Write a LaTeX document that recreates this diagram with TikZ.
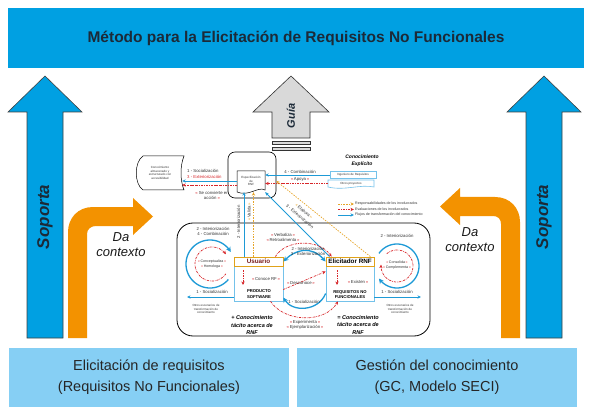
\documentclass[tikz,border=0pt]{standalone}
\usepackage{fontspec}
\setmainfont{Liberation Sans}
\usetikzlibrary{arrows.meta}
\definecolor{sky}{HTML}{00A0E2}
\definecolor{lightsky}{HTML}{86CFF4}
\definecolor{orng}{HTML}{F39200}
\definecolor{navy}{HTML}{1C2A38}
\definecolor{flowblue}{HTML}{1E9AD6}
\definecolor{flowred}{HTML}{D7262A}
\definecolor{resp}{HTML}{E6A52A}
\definecolor{hdrgold}{HTML}{E0A21A}
\definecolor{bodyblue}{HTML}{74C2EA}
\definecolor{txt}{HTML}{333333}
\newcommand{\rgq}[1]{{\color{flowred}«}\,#1\,{\color{flowred}»}}
\newcommand{\ogq}[1]{{\color{resp}«}\,#1\,{\color{resp}»}}
\newcommand{\fs}[2]{\fontsize{#1}{#2}\selectfont}
\begin{document}
\begin{tikzpicture}[x=1pt,y=-1pt,
  supp/.style={fill=sky, draw=black!75, line width=0.6pt, line join=miter},
  guiashape/.style={fill=black!15, draw=black!80, line width=0.6pt},
  ctx/.style={fill=orng},
  basebox/.style={fill=lightsky, minimum width=280pt, minimum height=59pt, inner sep=0pt, align=center, font=\fs{14.5}{21}, text=black!85},
  sop/.style={rotate=90, font=\fs{17}{19}\bfseries\itshape, text=navy},
  dactx/.style={align=center, font=\fs{13}{15}\itshape, text=black!90},
  lbl/.style={font=\fs{4.3}{5}, text=txt, inner sep=0pt, align=center},
  tinyt/.style={font=\fs{3}{3.6}, text=txt, inner sep=0pt, align=center},
  legt/.style={font=\fs{3.6}{4}, text=txt, inner sep=0pt, anchor=west},
  bi/.style={font=\fs{5.5}{7.5}\bfseries\itshape, text=black, inner sep=0pt, align=center},
  bthin/.style={draw=flowblue, line width=0.8pt, -{Stealth[length=3.5pt,width=3.2pt]}},
  bthick/.style={draw=flowblue, line width=1.3pt, -{Stealth[length=5pt,width=5pt]}},
  rflow/.style={draw=flowred, line width=0.7pt, dash pattern=on 2.2pt off 1pt on 0.6pt off 1pt, -{Stealth[length=3.5pt,width=3.2pt]}},
  oflow/.style={draw=resp, line width=0.7pt, dash pattern=on 1.5pt off 1.2pt, -{Stealth[length=3.5pt,width=3.2pt]}},
  hdr/.style={draw=hdrgold, line width=0.8pt, fill=white, minimum height=9pt, inner sep=0pt, font=\fs{6.3}{7}\bfseries},
  bodybox/.style={draw=bodyblue, line width=0.7pt, fill=white, minimum height=35pt, inner sep=0pt},
]
\useasboundingbox (0,0) rectangle (592,417);

% ---------- banner and base boxes ----------
\node[fill=sky, minimum width=576pt, minimum height=60pt, inner sep=0pt,
      font=\fs{15.5}{18}\bfseries, text=navy] (banner) at (296,38)
      {Método para la Elicitación de Requisitos No Funcionales};
\node[basebox] (elic) at (149,377.5) {Elicitación de requisitos\\(Requisitos No Funcionales)};
\node[basebox] (gest) at (437,377.5) {Gestión del conocimiento\\(GC, Modelo SECI)};

% ---------- Soporta arrows ----------
\draw[supp] (45,76) -- (82,112) -- (63,112) -- (63,338) -- (27,338) -- (27,112) -- (8,112) -- cycle;
\node[sop] (sopL) at (45,217) {Soporta};
\draw[supp] (544,76) -- (581,112) -- (562,112) -- (562,338) -- (526,338) -- (526,112) -- (507,112) -- cycle;
\node[sop] (sopR) at (544,217) {Soporta};

% ---------- Guia arrow ----------
\draw[guiashape] (291,76) -- (329,112) -- (310,112) -- (310,138) -- (272,138) -- (272,112) -- (253,112) -- cycle;
\draw[guiashape] (272,141) rectangle (310,144.5);
\draw[guiashape] (272,147) rectangle (310,150);
\node[rotate=90, font=\fs{11}{12}\bfseries\itshape, text=navy] (guia) at (291,116) {Guía};

% ---------- Da contexto arrows ----------
\fill[ctx] (68,338) -- (68,232) .. controls (68,218) and (78,207) .. (93,207) -- (133,207) -- (133,198)
  -- (153,216.5) -- (133,235) -- (133,226) -- (96,226) .. controls (91,226) and (87,229) .. (87,234) -- (87,338) -- cycle;
\node[dactx] (ctxL) at (121,245) {Da\\contexto};
\fill[ctx] (520,338) -- (520,222) .. controls (520,208) and (510,197) .. (495,197) -- (460,197) -- (460,188)
  -- (440,206.5) -- (460,225) -- (460,216) -- (493,216) .. controls (498,216) and (501,219) .. (501,224) -- (501,338) -- cycle;
\node[dactx] (ctxR) at (470,240) {Da\\contexto};

% ---------- stored knowledge ----------
\draw[line width=0.5pt] (143,156) -- (184,156) .. controls (180,166) and (180,180) .. (184,190) -- (143,190)
  .. controls (134,184) and (134,162) .. (143,156) -- cycle;
\node[tinyt, minimum width=44pt, minimum height=34pt] (conoc) at (160,173)
  {Conocimiento\\almacenado y\\estructurado con\\accesibilidad};

% ---------- specification ----------
\node[draw, rounded corners=7pt, line width=0.6pt, minimum width=48pt, minimum height=46pt] (specbox) at (252,175) {};
\draw[line width=0.5pt] (237,171) -- (265,171) -- (265,190) .. controls (258,186) and (249,197) .. (237,192) -- cycle;
\node[tinyt, minimum width=28pt, minimum height=22pt] (spec) at (251,181) {Especificación\\de\\RNF};

\draw[bthin] (spec.west) -- (conoc.east |- spec.west);
\draw[rflow] ([yshift=-4pt]spec.west) -- ([yshift=-4pt]conoc.east |- spec.west);
\node[lbl, anchor=west] (soc1) at (187,171) {1 - Socialización};
\node[lbl, anchor=west, text=flowred] (ext3) at (187,177) {3 - Exteriorización};
\node[lbl] (conv) at (212,195) {{\color{flowred}«} Se convierte en\\acción {\color{flowred}»}};

% ---------- explicit knowledge ----------
\node[bi, font=\fs{5}{7}\bfseries\itshape] (cexp) at (362,161) {Conocimiento\\Explícito};
\node[draw=bodyblue, line width=0.6pt, fill=white, tinyt, minimum width=46pt, minimum height=6.5pt] (ing) at (353,175) {Ingeniero de Requisitos};
\draw[draw=bodyblue, line width=0.6pt] (328,180) -- (374,180) -- (374,187) .. controls (360,184) and (345,191) .. (328,187) -- cycle;
\node[tinyt, minimum width=46pt, minimum height=7pt] (otros) at (351,183.5) {Otros proyectos};
\draw[bthin] (ing.west) -- (spec.east |- ing.west);
\draw[rflow] (otros.west) -- (spec.east |- otros.west);
\node[lbl] (comb4) at (300,171.5) {4 - Combinación};
\node[lbl] (apoya) at (300,179.5) {\rgq{Apoya}};

% ---------- legend ----------
\coordinate (l1a) at (338,204); \coordinate (l1b) at (354,204);
\coordinate (l2a) at (338,209.5); \coordinate (l2b) at (354,209.5);
\coordinate (l3a) at (338,215); \coordinate (l3b) at (354,215);
\draw[oflow] (l1a) -- (l1b);
\draw[rflow] (l2a) -- (l2b);
\draw[bthin] (l3a) -- (l3b);
\node[legt] (lt1) at (355,204) {Responsabilidades de los involucrados};
\node[legt] (lt2) at (355,209.5) {Evaluaciones de los involucrados};
\node[legt] (lt3) at (355,215) {Flujos de transformación del conocimiento};

% ---------- container ----------
\node[draw, rounded corners=16pt, line width=0.8pt, minimum width=253pt, minimum height=113pt] (cont) at (303.5,279.5) {};

% ---------- Usuario / Elicitador ----------
\node[bodybox, minimum width=49pt] (usub) at (258.5,283.5) {};
\node[hdr, minimum width=49pt, text={rgb,255:red,120;green,30;blue,30}] (usu) at (258.5,261.5) {Usuario};
\node[bodybox, minimum width=48pt] (elib) at (350,283.5) {};
\node[hdr, minimum width=48pt] (eli) at (350,261.5) {Elicitador RNF};

\coordinate (ua) at (243,270); \coordinate (ub) at (243,285);
\draw[rflow] (ua) -- (ub);
\node[lbl] (conoce) at (266,279.5) {\rgq{Conoce RF}};
\node[lbl, font=\fs{4.2}{5.5}\bfseries, text=black] (prod) at (259,294) {PRODUCTO\\SOFTWARE};
\coordinate (ea) at (337,270); \coordinate (eb) at (337,285);
\draw[rflow] (ea) -- (eb);
\node[lbl] (existen) at (358,282) {\rgq{Existen}};
\node[lbl, font=\fs{4.2}{5.5}\bfseries, text=black] (reqnf) at (350,294.5) {REQUISITOS NO\\FUNCIONALES};

% ---------- vertical and diagonal links to the specification ----------
\draw[bthin] ([xshift=-14.5pt]usu.north) -- ([xshift=-14.5pt]usu.north |- spec.south);
\draw[oflow] ([xshift=-5pt]usu.north) -- ([xshift=-5pt]usu.north |- spec.south);
\node[lbl, rotate=90] (int2v) at (238.5,222) {2 - Interiorización};
\node[lbl, rotate=90] (valida) at (249,212) {\ogq{Valida}};

\draw[bthin] ([xshift=4pt]eli.north west) -- (spec.south east);
\draw[oflow] ([xshift=-4pt]eli.north east) -- ([yshift=-6pt]specbox.east);
\node[lbl, rotate=-40, font=\fs{4.3}{6.5}] (elabext) at (302,214) {\ogq{Elabora}\\3 - Exteriorización};

% ---------- left loop ----------
\draw[bthick] plot[domain=40:330, samples=60] ({210+24*cos(\x)}, {264+24*sin(\x)});
\draw[rflow] plot[domain=35:325, samples=60] ({212+17*cos(\x)}, {264+17*sin(\x)});
\node[lbl] (int2L) at (213,231) {2 - Interiorización\\4 - Combinación};
\node[lbl, font=\fs{3.6}{5.6}] (concep) at (212,264) {\rgq{Conceptualiza}\\\rgq{Homologa}};

% ---------- right loop ----------
\draw[bthick] plot[domain=215:505, samples=60] ({397+22*cos(\x)}, {266+22*sin(\x)});
\draw[rflow] plot[domain=230:545, samples=60] ({397+16*cos(\x)}, {266+16*sin(\x)});
\node[lbl] (int2R) at (397,236) {2 - Interiorización};
\node[lbl, font=\fs{3.6}{5.6}] (consol) at (397,265) {\rgq{Consolida}\\\rgq{Complementa}};

% ---------- socialization to other scenarios ----------
\coordinate (osL) at (187,297);
\coordinate (osR) at (421,297);
\draw[bthin] (usub.west |- osL) -- (osL);
\draw[bthin] (elib.east |- osR) -- (osR);
\node[lbl] (soc1L) at (212,292) {1 - Socialización};
\node[lbl] (soc1R) at (397,292) {1 - Socialización};
\node[tinyt] (otrosL) at (206,309) {Otros escenarios de\\transformación de\\conocimiento};
\node[tinyt] (otrosR) at (400,309) {Otros escenarios de\\transformación de\\conocimiento};

% ---------- flows between Usuario and Elicitador ----------
\draw[rflow] ([xshift=-8pt]usu.north east) .. controls (285,240) and (318,238) .. ([xshift=6pt]eli.north west);
\draw[bthick, {Stealth[length=5pt,width=5pt]}-{Stealth[length=5pt,width=5pt]}] (usu.east) .. controls (295,250) and (311,245) .. (eli.west);
\node[lbl] (verb) at (283,237.5) {\rgq{Verbaliza}\\\rgq{Retroalimenta}};
\node[lbl] (intext) at (308,251) {2 - Interiorización\\3 - Exteriorización};
\draw[rflow] ([yshift=-6pt]usub.east) -- ([yshift=12pt]elib.west);
\node[lbl] (desc) at (301,283) {\rgq{Desconoce}};
\draw[bthick] ([yshift=-10pt]elib.west) .. controls (318,312) and (292,312) .. ([yshift=-14pt]usub.east);
\node[lbl] (soc1M) at (304,302) {1 - Socialización};
\draw[rflow] ([xshift=12pt]usub.south) .. controls (285,323) and (325,323) .. ([xshift=-12pt]elib.south);
\node[lbl] (exper) at (305,324.5) {\rgq{Experimenta}\\\rgq{Ejemplarización}};

% ---------- tacit knowledge ----------
\node[bi] (tacP) at (252,325.5) {+ Conocimiento\\tácito acerca de\\RNF};
\node[bi] (tacM) at (358,325) {= Conocimiento\\tácito acerca de\\RNF};
\end{tikzpicture}
\end{document}
